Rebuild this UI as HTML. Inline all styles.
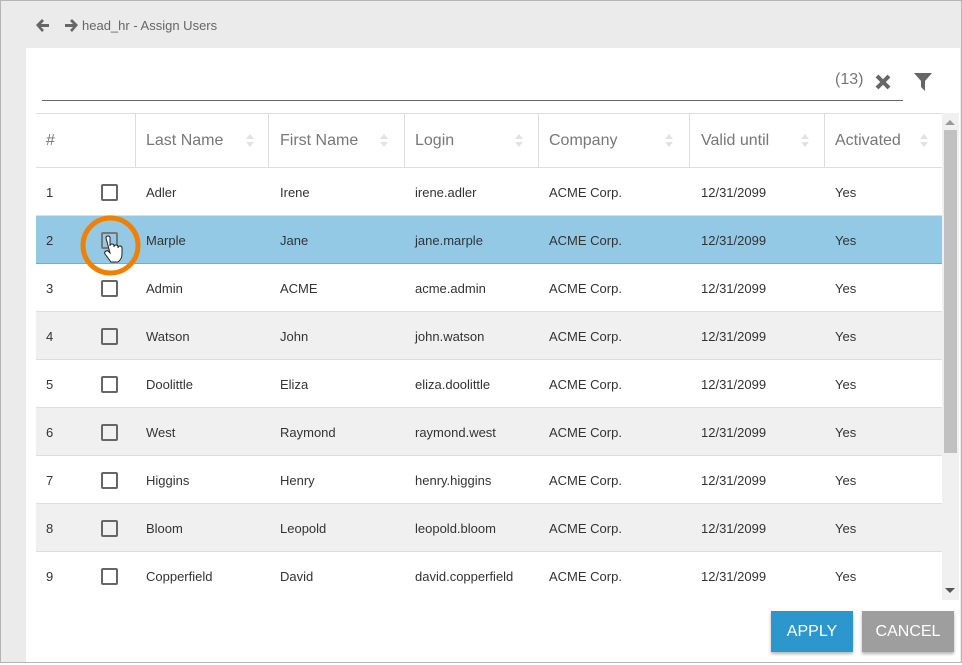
<!DOCTYPE html>
<html><head><meta charset="utf-8"><style>
*{margin:0;padding:0;box-sizing:border-box}
body{width:962px;height:665px;overflow:hidden;background:#fff;font-family:"Liberation Sans",sans-serif;position:relative}
.a{position:absolute}
.frame{left:0;top:0;width:962px;height:665px;border:1px solid #b5b5b5;border-bottom:none;background:#ebebeb}
.panel{left:26px;top:48px;width:934px;height:614px;background:#fff}
.bot{left:0;top:662px;width:962px;height:3px;background:#fff;border-top:1px solid #b5b5b5}
.t{font-size:13px;color:#333;white-space:nowrap}
.h{font-size:16px;color:#777;white-space:nowrap}
.row{left:36px;width:906px;height:48px;border-bottom:1px solid #ddd}
.cb{width:17px;height:17px;border:2px solid #666;border-radius:2px}
.sep{width:1px;height:55px;top:113px;background:#ddd}
.sort{width:0;height:0;border-left:5px solid transparent;border-right:5px solid transparent}
.btn{top:611px;height:41px;color:#fff;font-size:16px;text-align:center;line-height:41px;box-shadow:0 2px 3px rgba(0,0,0,.3)}
</style></head><body>
<div class="a frame"></div>
<svg class="a" style="left:34px;top:17px" width="46" height="16"><path d="M2 8 L8 2 L10 4 L7 7 H15 V10 H7 L10 13 L8 15 Z" fill="#666"/><path d="M44 8 L38 2 L36 4 L39 7 H31 V10 H39 L36 13 L38 15 Z" fill="#666"/></svg>
<div class="a" style="left:82px;top:18px;font-size:13px;color:#666">head_hr - Assign Users</div>
<div class="a panel"></div>
<div class="a bot"></div>
<div class="a" style="left:42px;top:100px;width:861px;height:1px;background:#666"></div>
<div class="a" style="left:835px;top:71px;font-size:16px;color:#777">(13)</div>
<svg class="a" style="left:874px;top:73px" width="18" height="18"><path d="M3 3 L15 15 M15 3 L3 15" stroke="#666" stroke-width="4"/></svg>
<svg class="a" style="left:913px;top:72px" width="20" height="20"><path d="M1 1 H19 L12 9 V19 L8 15 V9 Z" fill="#666"/></svg>
<div class="a" style="left:36px;top:113px;width:906px;height:55px;border-top:1px solid #ddd;border-bottom:1px solid #ddd"></div>
<div class="a sep" style="left:135px"></div><div class="a sep" style="left:268px"></div><div class="a sep" style="left:404px"></div><div class="a sep" style="left:538px"></div><div class="a sep" style="left:689px"></div><div class="a sep" style="left:824px"></div>
<div class="a h" style="left:46px;top:132px">#</div>
<div class="a h" style="left:146px;top:132px">Last Name</div>
<div class="a h" style="left:280px;top:132px">First Name</div>
<div class="a h" style="left:415px;top:132px">Login</div>
<div class="a h" style="left:549px;top:132px">Company</div>
<div class="a h" style="left:701px;top:132px">Valid until</div>
<div class="a h" style="left:835px;top:132px">Activated</div>
<div id="sorts"></div>
<div id="rows"></div>
<div class="a" style="left:942px;top:113px;width:17px;height:487px;background:#f0f0f0"></div>
<div class="a" style="left:944px;top:130px;width:13px;height:323px;background:#c1c1c1"></div>
<div class="a sort" style="left:945px;top:120px;border-bottom:5px solid #999"></div>
<div class="a sort" style="left:945px;top:588px;border-top:5px solid #555"></div>
<svg class="a" style="left:76px;top:211px" width="70" height="70"><circle cx="34.5" cy="34.5" r="27.5" fill="none" stroke="#f08000" stroke-width="5"/>
<path d="M30 27 q0-2 2-2 q2 0 2 2 v8 q0-2 2-2 q2 0 2 2 v1 q0-2 2-2 q2 0 2 2 v1 q0-2 2-2 q2 0 2 2 v6 q0 5-4 8 h-7 l-6-8 q-1-2 1-3 q2-1 3 1 l1 1 z" fill="#fff" stroke="#222" stroke-width="1"/></svg>
<div class="a btn" style="left:771px;width:82px;background:#2b97cd">APPLY</div>
<div class="a btn" style="left:862px;width:92px;background:#9e9e9e">CANCEL</div>
<script>
var s='';[246,380,515,665,801,920].forEach(function(x){s+='<div class="a sort" style="left:'+x+'px;top:134px;border-left-width:4px;border-right-width:4px;border-bottom:5px solid #e2e2e2"></div><div class="a sort" style="left:'+x+'px;top:142px;border-left-width:4px;border-right-width:4px;border-top:5px solid #e2e2e2"></div>';});
document.getElementById('sorts').innerHTML=s;
var d=[["Adler","Irene","irene.adler"],["Marple","Jane","jane.marple"],["Admin","ACME","acme.admin"],["Watson","John","john.watson"],["Doolittle","Eliza","eliza.doolittle"],["West","Raymond","raymond.west"],["Higgins","Henry","henry.higgins"],["Bloom","Leopold","leopold.bloom"],["Copperfield","David","david.copperfield"]];
var h='';d.forEach(function(r,i){var y=168+i*48;var bg=i==1?'#93c9e5':(i%2==1?'#f0f0f0':'#fff');var bb=i==8?'none':(i==1?'1px solid #6aaed0':'1px solid #ddd');
h+='<div class="a row" style="top:'+y+'px;background:'+bg+';border-bottom:'+bb+'"></div>';var ty=y+17;
h+='<div class="a t" style="left:46px;top:'+ty+'px">'+(i+1)+'</div>';
h+='<div class="a cb" style="left:101px;top:'+(y+16)+'px;'+(i==1?'border-color:#777':'')+'"></div>';
h+='<div class="a t" style="left:146px;top:'+ty+'px">'+r[0]+'</div><div class="a t" style="left:280px;top:'+ty+'px">'+r[1]+'</div><div class="a t" style="left:415px;top:'+ty+'px">'+r[2]+'</div><div class="a t" style="left:549px;top:'+ty+'px">ACME Corp.</div><div class="a t" style="left:701px;top:'+ty+'px">12/31/2099</div><div class="a t" style="left:835px;top:'+ty+'px">Yes</div>';});
document.getElementById('rows').innerHTML=h;
</script>
</body></html>
